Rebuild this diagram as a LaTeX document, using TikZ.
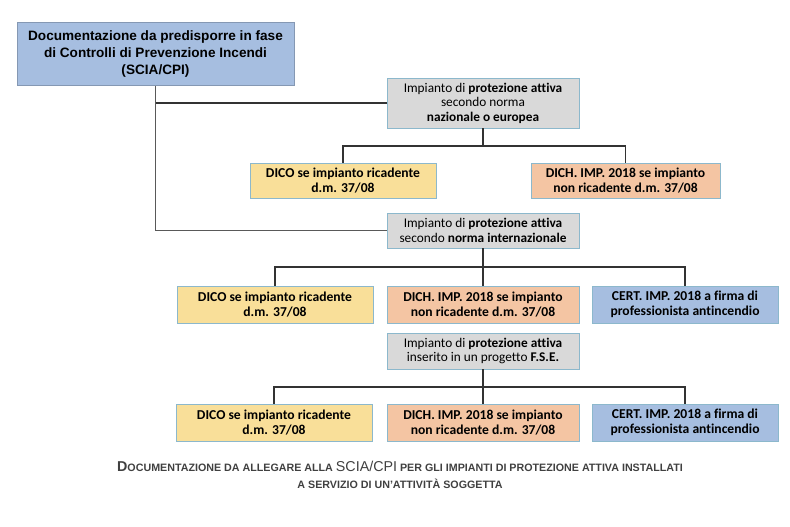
\documentclass[tikz,border=0pt]{standalone}
\usepackage{fontspec}
\setmainfont{Liberation Sans}
\newfontfamily\boxfont[Ligatures=NoCommon]{Carlito}
\usetikzlibrary{calc}

\definecolor{titleblue}{HTML}{A6BEE0}
\definecolor{certblue}{HTML}{A6BEE0}
\definecolor{greyfill}{HTML}{D9D9D9}
\definecolor{dicoyellow}{HTML}{F9DF99}
\definecolor{dichorange}{HTML}{F4C5A3}
\definecolor{boxedge}{HTML}{8CB8CC}
\definecolor{wirecol}{HTML}{333333}

\tikzset{
	docbox/.style={draw=boxedge, line width=0.7pt, inner sep=0pt, align=center,
		font=\boxfont\bfseries\fontsize{13.6}{14.5}\selectfont},
	greybox/.style={docbox, fill=greyfill, minimum width=192pt,
		font=\boxfont\fontsize{13.3}{14.5}\selectfont},
	dicobox/.style={docbox, fill=dicoyellow},
	dichbox/.style={docbox, fill=dichorange},
	certbox/.style={docbox, fill=certblue},
	wire/.style={draw=wirecol, line width=1.5pt},
	capsmall/.style={font=\bfseries\fontsize{10.7}{12}\selectfont, text=black!75, inner sep=0pt}
}
% small caps by hand
\newcommand{\capletter}[1]{{\fontsize{14.3}{12}\selectfont #1}}

\begin{document}
\begin{tikzpicture}[x=1pt, y=-1pt]
			%%%%% START %%%%%
			\useasboundingbox (0, 0) rectangle (790, 527);
			
			\node[docbox, fill=titleblue, draw=titleblue!80!black, minimum width=277pt, minimum height=63pt,
				font=\bfseries\fontsize{13.6}{17}\selectfont] (title) at (155.5, 54)
				{Documentazione da predisporre in fase\\di Controlli di Prevenzione Incendi\\(SCIA/CPI)};
			
			% first branch
			\node[greybox, minimum height=50pt] (g1) at (483, 103)
				{Impianto di \textbf{protezione attiva}\\secondo norma\\\textbf{nazionale o europea}};
			\node[dicobox, minimum width=186pt, minimum height=35pt] (y1) at (343, 180.5)
				{DICO se impianto ricadente\\d.m. 37/08};
			\node[dichbox, minimum width=189pt, minimum height=35pt] (o1) at (625.5, 180.5)
				{DICH. IMP. 2018 se impianto\\non ricadente d.m. 37/08};
			
			% second branch
			\node[greybox, minimum height=35pt] (g2) at (483, 230.5)
				{Impianto di \textbf{protezione attiva}\\secondo \textbf{norma internazionale}};
			\node[dicobox, minimum width=196pt, minimum height=37pt] (y2) at (275, 304.5)
				{DICO se impianto ricadente\\d.m. 37/08};
			\node[dichbox, minimum width=192pt, minimum height=37pt] (o2) at (483, 304.5)
				{DICH. IMP. 2018 se impianto\\non ricadente d.m. 37/08};
			\node[certbox, minimum width=186pt, minimum height=37pt] (b2) at (685, 304.5)
				{CERT. IMP. 2018 a firma di\\professionista antincendio};
			
			% third branch
			\node[greybox, minimum height=36pt] (g3) at (483, 351)
				{Impianto di \textbf{protezione attiva}\\inserito in un progetto \textbf{F.S.E.}};
			\node[dicobox, minimum width=196pt, minimum height=37pt] (y3) at (274, 422.5)
				{DICO se impianto ricadente\\d.m. 37/08};
			\node[dichbox, minimum width=192pt, minimum height=37pt] (o3) at (483, 422.5)
				{DICH. IMP. 2018 se impianto\\non ricadente d.m. 37/08};
			\node[certbox, minimum width=186pt, minimum height=37pt] (b3) at (685, 422.5)
				{CERT. IMP. 2018 a firma di\\professionista antincendio};
			
			% junctions
			\coordinate (j1) at (483, 146);
			\coordinate (j2) at (483, 267);
			\coordinate (j3) at (483, 387);
			
			\draw[wire, draw=black!65, line width=1.8pt] (title.south) |- (g2.west);
			\draw[wire] (title.south |- g1.west) -- (g1.west);
			\draw[wire] (g1.south) -- (j1);
			\draw[wire] (y1.north) |- (j1) -| (o1.north);
			\draw[wire] (g2.south) -- (o2.north);
			\draw[wire] (y2.north) |- (j2) -| (b2.north);
			\draw[wire] (g3.south) -- (o3.north);
			\draw[wire] (y3.north) |- (j3) -| (b3.north);
			
			\node[capsmall] (cap1) at (400, 466)
				{\capletter{D}OCUMENTAZIONE DA ALLEGARE ALLA {\mdseries\capletter{SCIA/CPI}} PER GLI IMPIANTI DI PROTEZIONE ATTIVA INSTALLATI};
			\node[capsmall] (cap2) at (400, 484)
				{A SERVIZIO DI UN'ATTIVITÀ SOGGETTA};
			
			%%%%% END %%%%%
		\end{tikzpicture}
\end{document}
